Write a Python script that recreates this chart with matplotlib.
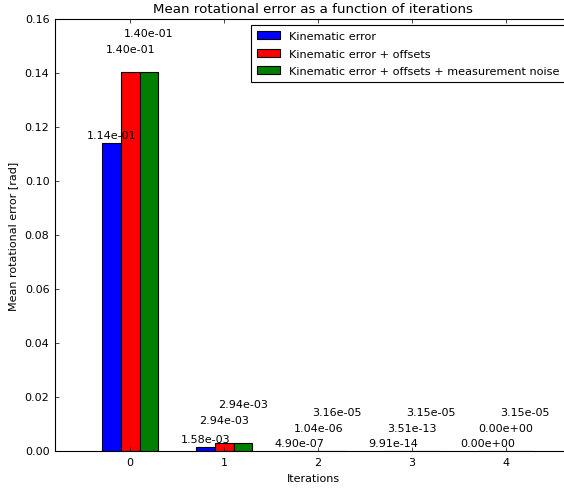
import matplotlib
matplotlib.use('Agg')
import matplotlib.pyplot as plt
import numpy as np

plt.style.use('classic')
plt.rcParams['font.family'] = 'DejaVu Sans'
plt.rcParams['font.size'] = 8
plt.rcParams['xtick.major.size'] = 3.2
plt.rcParams['ytick.major.size'] = 3.2
plt.rcParams['patch.linewidth'] = 0.8
plt.rcParams['axes.linewidth'] = 0.8

# values
iterations = [0, 1, 2, 3, 4]
kinematic = [1.14e-01, 1.58e-03, 4.90e-07, 9.91e-14, 0.0]
with_offsets = [1.404e-01, 2.94e-03, 1.04e-06, 3.51e-13, 0.0]
with_noise = [1.404e-01, 2.94e-03, 3.16e-05, 3.15e-05, 3.15e-05]
series_names = ['Kinematic error', 'Kinematic error + offsets',
                'Kinematic error + offsets + measurement noise']

fig = plt.figure(figsize=(5.64, 4.89), dpi=100)
ax = fig.add_axes([0.0975, 0.0757, 0.9149, 0.883])

width = 0.2
x = np.array(iterations)
series = [kinematic, with_offsets, with_noise]
colors = ['b', 'r', 'g']
# stagger the value labels so they do not overlap
label_offsets = [0.003, 0.0085, 0.0145]

for i, (vals, col, name) in enumerate(zip(series, colors, series_names)):
    pos = x + (i - 1) * width
    ax.bar(pos, vals, width, color=col, edgecolor='k', label=name, align='center')
    for p, v in zip(pos, vals):
        ax.text(p, v + label_offsets[i], '%.2e' % v, ha='center', va='center')

ax.set_xlim(-0.8, 4.69)
ax.set_ylim(0, 0.16)
ax.set_xticks(iterations)
ax.set_title('Mean rotational error as a function of iterations', fontsize=9.6)
ax.set_xlabel('Iterations')
ax.set_ylabel('Mean rotational error [rad]')
ax.legend(loc='upper right', fontsize=8.1, labelspacing=0.68, borderpad=0.55)

fig.savefig('out.png', dpi=100)
